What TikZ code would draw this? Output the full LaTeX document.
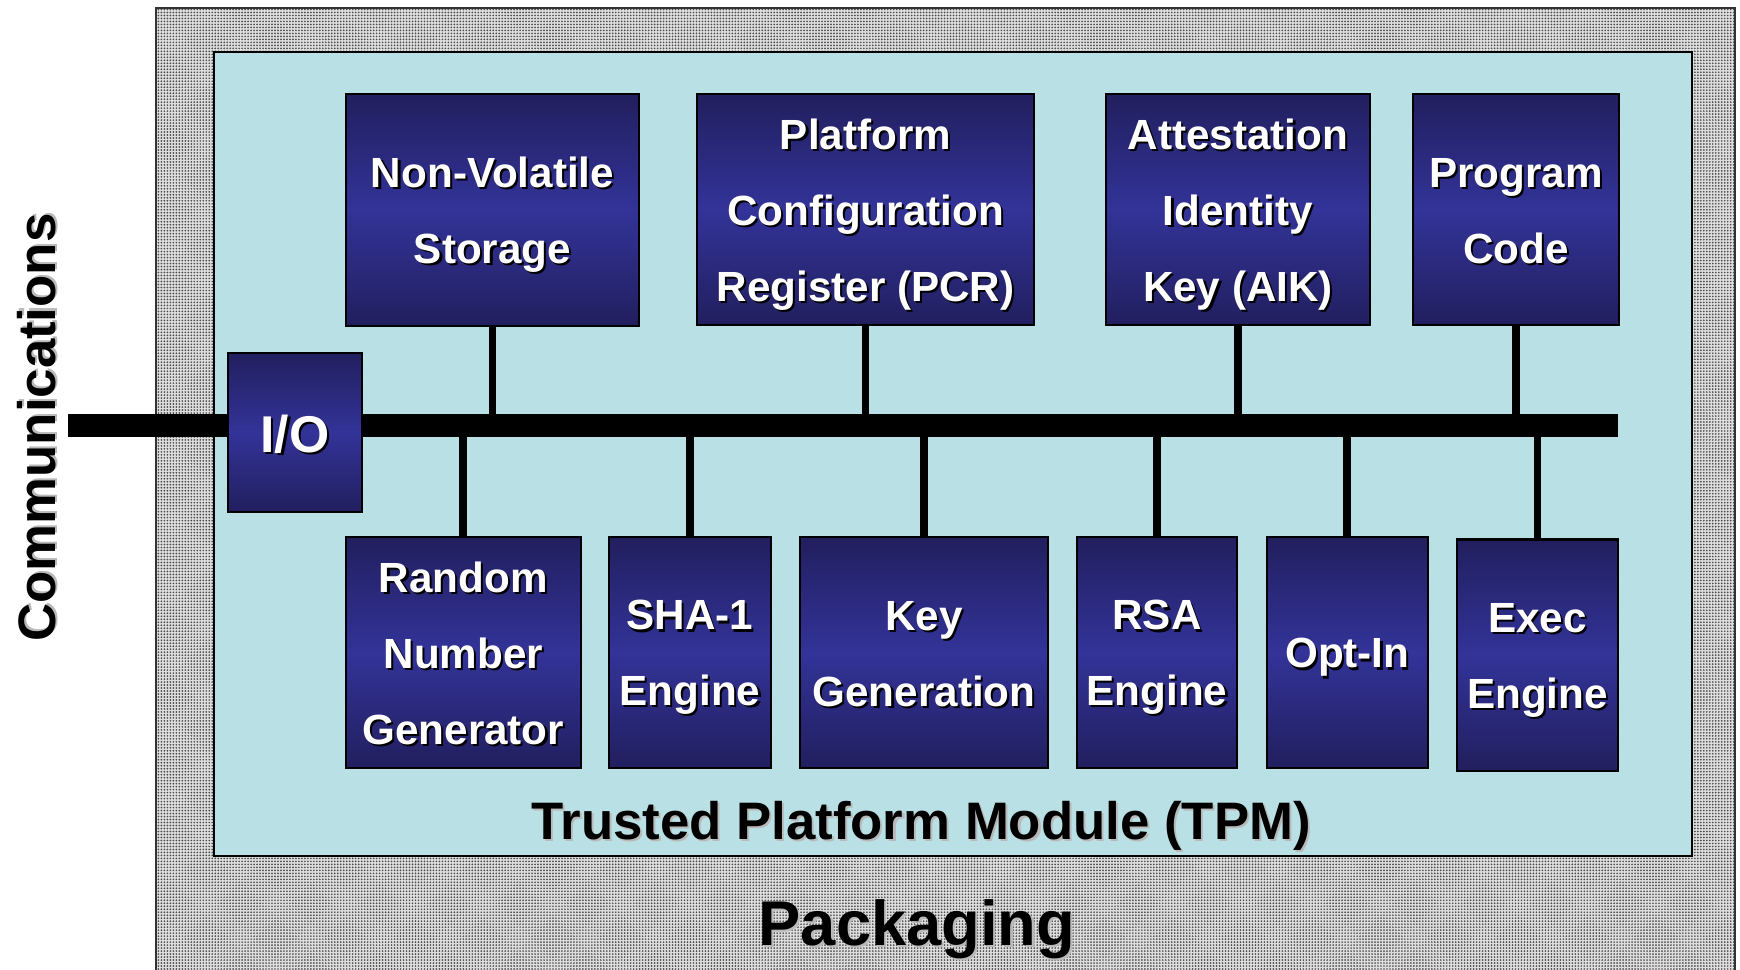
\documentclass[tikz,border=0pt]{standalone}
\usepackage{fontspec}
\setmainfont{Liberation Sans}
\usetikzlibrary{patterns.meta}
\definecolor{tpmcyan}{RGB}{185,224,228}
\definecolor{navydark}{RGB}{33,31,94}
\definecolor{navymid}{RGB}{51,51,153}
\definecolor{pkggray}{RGB}{222,222,222}
\newcommand{\shtxt}[2][black]{\rlap{\kern.6pt\raisebox{-.6pt}{\color{#1}#2}}#2}
\newcommand{\blktxt}[1]{\rule{0pt}{1em}#1\rule[-.24em]{0pt}{0pt}}
\tikzset{blk/.style={draw=black, line width=0.6pt, top color=navydark, bottom color=navydark, middle color=navymid,
    text=white, font=\fontsize{12}{21.6}\selectfont\bfseries, align=center, inner sep=0pt, minimum height=2.31cm}}
\tikzset{bus/.style={line width=6.5pt}}
\tikzset{link/.style={line width=2.2pt}}
\tikzset{big/.style={font=\fontsize{15}{15}\selectfont\bfseries, inner sep=0pt}}

\begin{document}
\begin{tikzpicture}[x=0.01cm, y=-0.01cm]
  \useasboundingbox (0,0) rectangle (1740,969);
  \draw[gray!40!black, line width=0.5pt, preaction={fill=pkggray},
    pattern={Dots[distance=0.85pt, radius=0.27pt]}, pattern color=gray!60!black] (156,8) rectangle (1735,990);
  \draw[line width=0.75pt, fill=tpmcyan] (214,52) rectangle (1692,856);

  \coordinate (busL) at (68,425.5);
  \coordinate (busR) at (1618,425.5);
  \draw[bus] (busL) -- (busR);

  \node[blk, minimum width=1.335cm, minimum height=1.59cm, font=\fontsize{14.7}{14.7}\selectfont\bfseries] (io) at (295,432.5) {\blktxt{\shtxt{I/O}}};

  \node[blk, minimum width=2.93cm] (nvs) at (492.5,210) {\blktxt{\shtxt{Non-Volatile}\\\shtxt{Storage}}};
  \node[blk, minimum width=3.375cm] (pcr) at (865.5,209.5) {\blktxt{\shtxt{Platform}\\\shtxt{Configuration}\\\shtxt{Register (PCR)}}};
  \node[blk, minimum width=2.64cm] (aik) at (1238,209.5) {\blktxt{\shtxt{Attestation}\\\shtxt{Identity}\\\shtxt{Key (AIK)}}};
  \node[blk, minimum width=2.055cm] (prog) at (1516,209.5) {\blktxt{\shtxt{Program}\\\shtxt{Code}}};

  \node[blk, minimum width=2.345cm] (rng) at (463.3,652.3) {\blktxt{\shtxt{Random}\\\shtxt{Number}\\\shtxt{Generator}}};
  \node[blk, minimum width=1.615cm] (sha) at (690,652.3) {\blktxt{\shtxt{SHA-1}\\\shtxt{Engine}}};
  \node[blk, minimum width=2.48cm] (keygen) at (924,652.3) {\blktxt{\shtxt{Key}\\\shtxt{Generation}}};
  \node[blk, minimum width=1.605cm] (rsa) at (1157,652.3) {\blktxt{\shtxt{RSA}\\\shtxt{Engine}}};
  \node[blk, minimum width=1.605cm] (optin) at (1347.3,652.3) {\blktxt{\shtxt{Opt-In}}};
  \node[blk, minimum width=1.605cm] (exec) at (1537.5,655) {\blktxt{\shtxt{Exec}\\\shtxt{Engine}}};

  \foreach \n in {nvs,pcr,aik,prog,rng,sha,keygen,rsa,optin,exec}
    \draw[link] (\n) -- (\n |- busL);

  \node[big, rotate=90, anchor=base] (comm) at (55,427.5) {\shtxt[gray!55]{Communications}};
  \node[big, anchor=base] (tpm) at (921,839.3) {\shtxt[gray!55]{Trusted Platform Module (TPM)}};
  \node[big, font=\fontsize{18}{18}\selectfont\bfseries, anchor=base] (pkg) at (917,945) {\shtxt[gray!55]{Packaging}};
\end{tikzpicture}
\end{document}
